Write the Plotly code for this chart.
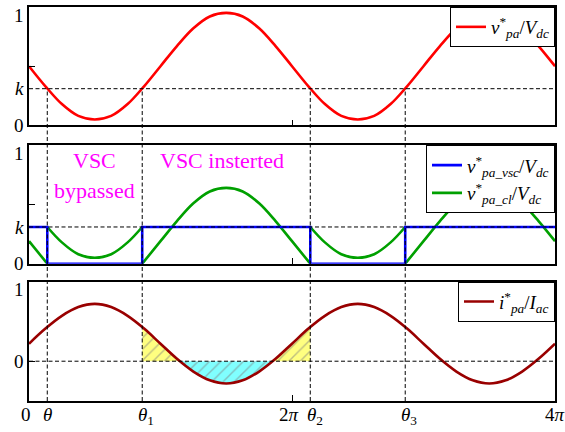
import numpy as np
import plotly.graph_objects as go
from plotly.subplots import make_subplots

PI = np.pi

# ---- data (angles in units of pi) ----
k = 0.31
theta_pi = [0.139, 0.861, 2.139, 2.861]          # theta, theta1, theta2, theta3

grid_pi = [i / 8 for i in range(33)]              # 0 .. 4 pi in pi/8 steps
v_pa = [0.50, 0.33, 0.18, 0.08, 0.05, 0.08, 0.18, 0.33, 0.50, 0.67, 0.82, 0.92, 0.95, 0.92, 0.82, 0.67,
        0.50, 0.33, 0.18, 0.08, 0.05, 0.08, 0.18, 0.33, 0.50, 0.67, 0.82, 0.92, 0.95, 0.92, 0.82, 0.67, 0.50]
i_pa = [0.22, 0.41, 0.57, 0.68, 0.72, 0.68, 0.57, 0.41, 0.22, 0.03, -0.13, -0.24, -0.28, -0.24, -0.13, 0.03,
        0.22, 0.41, 0.57, 0.68, 0.72, 0.68, 0.57, 0.41, 0.22, 0.03, -0.13, -0.24, -0.28, -0.24, -0.13, 0.03, 0.22]

# VSC output (step) and cell voltage, segment by segment (None separates segments)
vsc_x_pi = [0, 0.139, 0.139, 0.861, 0.861, 2.139, 2.139, 2.861, 2.861, 4.0]
vsc_y = [k, k, 0, 0, k, k, 0, 0, k, k]

cl_x_pi = [0, 0.139, None,
           0.139, 0.25, 0.375, 0.5, 0.625, 0.75, 0.861, None,
           0.861, 1.0, 1.125, 1.25, 1.375, 1.5, 1.625, 1.75, 1.875, 2.0, 2.139, None,
           2.139, 2.25, 2.375, 2.5, 2.625, 2.75, 2.861, None,
           2.861, 3.0, 3.125, 3.25, 3.375, 3.5, 3.625, 3.75, 3.875, 4.0]
cl_y = [0.19, 0.0, None,
        0.31, 0.18, 0.08, 0.05, 0.08, 0.18, 0.31, None,
        0.0, 0.19, 0.36, 0.51, 0.61, 0.64, 0.61, 0.51, 0.36, 0.19, 0.0, None,
        0.31, 0.18, 0.08, 0.05, 0.08, 0.18, 0.31, None,
        0.0, 0.19, 0.36, 0.51, 0.61, 0.64, 0.61, 0.51, 0.36, 0.19]

# shaded current areas
pos1_x_pi = [0.861, 1.0, 1.145]
pos1_y = [0.43, 0.22, 0.0]
neg_x_pi = [1.145, 1.25, 1.375, 1.5, 1.625, 1.75, 1.855]
neg_y = [0.0, -0.13, -0.24, -0.28, -0.24, -0.13, 0.0]
pos2_x_pi = [1.855, 2.0, 2.139]
pos2_y = [0.0, 0.22, 0.43]

x_label_pi = [0, 0.139, 0.861, 2.0, 2.139, 2.861, 4.0]
x_label_text = ["0", "<i>θ</i>", "<i>θ</i><sub>1</sub>", "2<i>π</i>", "<i>θ</i><sub>2</sub>",
                "<i>θ</i><sub>3</sub>", "4<i>π</i>"]
x_label_shift = [-3, 0, 4, -3, 5, 4, 0]


def rad(seq):
    return [None if v is None else v * PI for v in seq]


FONT = "Liberation Serif"
RED, BLUE, GREEN, DARKRED = "#FF0000", "#0000FF", "#00A000", "#990000"

fig = make_subplots(rows=3, cols=1, shared_xaxes=False, vertical_spacing=0.05)
doms = [[0.6995, 1.0], [0.3485, 0.649], [0.0, 0.303]]

fig.add_trace(go.Scatter(x=rad(grid_pi), y=v_pa, mode="lines", line=dict(color=RED, width=2.6, shape="spline"),
                         name="<i>v</i><sup>*</sup><sub><i>pa</i></sub>/<i>V</i><sub><i>dc</i></sub>",
                         legend="legend"), row=1, col=1)

fig.add_trace(go.Scatter(x=rad(cl_x_pi), y=cl_y, mode="lines", connectgaps=False,
                         line=dict(color=GREEN, width=2.6, shape="spline"),
                         name="<i>v</i><sup>*</sup><sub><i>pa_cl</i></sub>/<i>V</i><sub><i>dc</i></sub>",
                         legend="legend2"), row=2, col=1)
fig.add_trace(go.Scatter(x=rad(vsc_x_pi), y=vsc_y, mode="lines", line=dict(color=BLUE, width=2.6),
                         name="<i>v</i><sup>*</sup><sub><i>pa_vsc</i></sub>/<i>V</i><sub><i>dc</i></sub>",
                         legend="legend2"), row=2, col=1)

for xs, ys, col in [(pos1_x_pi, pos1_y, "#FFFF80"), (neg_x_pi, neg_y, "#80FFFF"), (pos2_x_pi, pos2_y, "#FFFF80")]:
    fig.add_trace(go.Scatter(x=rad(xs), y=ys, mode="lines", fill="tozeroy", fillcolor=col,
                             line=dict(width=0, shape="spline"), showlegend=False,
                             fillpattern=dict(shape="/", bgcolor=col, fgcolor="#808080", size=8, solidity=0.18)),
                  row=3, col=1)
fig.add_trace(go.Scatter(x=rad(grid_pi), y=i_pa, mode="lines", line=dict(color=DARKRED, width=2.6, shape="spline"),
                         name="<i>i</i><sup>*</sup><sub><i>pa</i></sub>/<i>I</i><sub><i>ac</i></sub>",
                         legend="legend3"), row=3, col=1)

# axes
y_ranges = [[0, 1], [0, 1], [-0.5, 1]]
y_tickvals = [[0, k], [0, k], [0]]
y_ticktext = [["0", "<i>k</i>"], ["0", "<i>k</i>"], ["0"]]
y_minor = [[0.5], [0.5], [0]]
tick_font = dict(family=FONT, size=19, color="black")
for r in range(3):
    xa = "xaxis" if r == 0 else f"xaxis{r + 1}"
    ya = "yaxis" if r == 0 else f"yaxis{r + 1}"
    fig.layout[xa].update(domain=[0, 1], range=[0, 4 * PI], showline=True, mirror=True, linecolor="black",
                          linewidth=1.5, showgrid=False, zeroline=False, ticks="", showticklabels=False,
                          tickvals=[2 * PI], ticklen=6,
                          minor=dict(tickvals=[2 * PI], ticks="inside", ticklen=6, tickcolor="black", tickwidth=1.2))
    fig.layout[ya].update(domain=doms[r], range=y_ranges[r], showline=True, mirror=True, linecolor="black",
                          linewidth=1.5, showgrid=False, zeroline=False, ticks="",
                          tickvals=y_tickvals[r], ticktext=y_ticktext[r], tickfont=tick_font,
                          minor=dict(tickvals=y_minor[r], ticks="inside", ticklen=6, tickcolor="black", tickwidth=1.2))
    # the "1" label sits a little below the top border
    fig.add_annotation(x=0, y=1, xref="paper", yref=ya.replace("axis", ""), text="1", showarrow=False,
                       xanchor="right", yanchor="middle", xshift=-3, yshift=-8, font=tick_font)

# angle labels under the bottom panel
for xv, txt, sh in zip(x_label_pi, x_label_text, x_label_shift):
    fig.add_annotation(x=xv * PI, y=0, xref="x3", yref="paper", text=txt, showarrow=False,
                       xanchor="center", yanchor="top", xshift=sh, yshift=-1, font=tick_font)

dash = dict(color="black", width=1, dash="4px,2.5px")
# horizontal reference lines
for xr, yr, yv in [("x", "y", k), ("x2", "y2", k), ("x3", "y3", 0)]:
    fig.add_shape(type="line", xref=xr, yref=yr, x0=0, x1=4 * PI, y0=yv, y1=yv, line=dash, layer="above")
# vertical switching lines from the k level in the top panel to the bottom axis
k_top = doms[0][0] + k * (doms[0][1] - doms[0][0])
for t in theta_pi:
    fig.add_shape(type="line", xref="x", yref="paper", x0=t * PI, x1=t * PI, y0=0, y1=k_top,
                  line=dash, layer="above")

ann_font = dict(family=FONT, size=22, color="#FF00FF")
fig.add_annotation(x=0.5 * PI, y=0.87, xref="x2", yref="y2", text="VSC", showarrow=False, font=ann_font)
fig.add_annotation(x=0.5 * PI, y=0.62, xref="x2", yref="y2", text="bypassed", showarrow=False, font=ann_font)
fig.add_annotation(x=1.47 * PI, y=0.87, xref="x2", yref="y2", text="VSC insterted", showarrow=False, font=ann_font)

leg = dict(bgcolor="white", bordercolor="black", borderwidth=1, xanchor="right", x=1.0, yanchor="top",
           font=dict(family=FONT, size=19, color="black"), itemwidth=30, tracegroupgap=0)
fig.update_layout(
    width=565, height=432, margin=dict(l=29, r=10, t=5, b=31),
    plot_bgcolor="white", paper_bgcolor="white",
    legend=dict(leg, y=doms[0][1]),
    legend2=dict(leg, y=doms[1][1], traceorder="reversed"),
    legend3=dict(leg, y=doms[2][1]),
)

fig.write_html("out.html")
